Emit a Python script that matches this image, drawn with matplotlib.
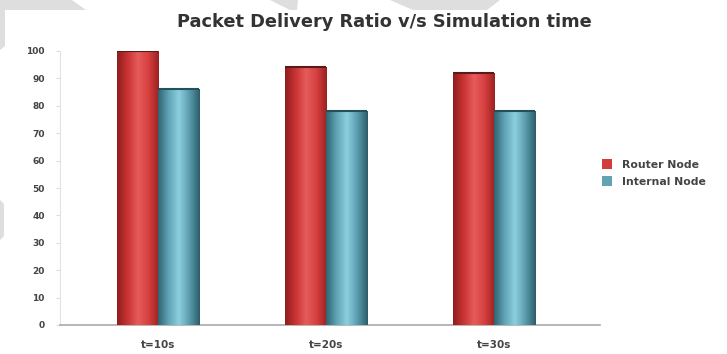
import numpy as np
import matplotlib.pyplot as plt
from matplotlib.colors import LinearSegmentedColormap
from matplotlib.patches import Polygon, Rectangle

# Packet delivery ratio (%) per simulation time
categories = ['t=10s', 't=20s', 't=30s']
router_node = [100, 94, 92]
internal_node = [86, 78, 78]
series_names = ['Router Node', 'Internal Node']
y_ticks = list(range(0, 101, 10))

W, H = 727, 354

red_cmap = LinearSegmentedColormap.from_list(
    'red_cyl', ['#8e1e1e', '#c83232', '#e65c5c', '#d84040', '#9a2222'])
teal_cmap = LinearSegmentedColormap.from_list(
    'teal_cyl', ['#2f6470', '#5fa3b5', '#8ccfdf', '#5a9cae', '#2b5c68'])


def px(points):
    # pixel coords (origin top-left) -> figure fraction
    return [(x / W, 1 - y / H) for x, y in points]


def shade_bars(ax, bars, cmap, cap):
    # horizontal gradient clipped to each bar to give a cylinder look
    grad = np.linspace(0, 1, 256).reshape(1, -1)
    for b in bars:
        x0, y0 = b.get_x(), b.get_y()
        w, h = b.get_width(), b.get_height()
        im = ax.imshow(grad, cmap=cmap, aspect='auto',
                       extent=(x0, x0 + w, y0, y0 + h), zorder=3)
        im.set_clip_path(b)
        ax.plot([x0, x0 + w], [y0 + h, y0 + h], color=cap,
                lw=1.5, zorder=4, solid_capstyle='butt')


fig = plt.figure(figsize=(W / 100, H / 100), dpi=100)

# faint page watermark around the chart area
wm = '#dedede'
for poly in [
    [(0, 0), (72, 0), (86, 10), (5, 10), (5, 46), (0, 50)],
    [(270, 0), (298, 0), (297, 10), (290, 10)],
    [(390, 0), (500, 0), (487, 10), (413, 10)],
    [(0, 200), (4, 204), (4, 236), (0, 240)],
]:
    fig.patches.append(Polygon(px(poly), closed=True, transform=fig.transFigure,
                               facecolor=wm, edgecolor='none', zorder=0))

ax = fig.add_axes([60 / W, 29 / H, 540 / W, 274 / H])
ax.patch.set_alpha(0)

x = np.arange(len(categories))
width = 0.245
bars_r = ax.bar(x - width / 2, router_node, width, color='#d23c3c', label=series_names[0], zorder=2)
bars_i = ax.bar(x + width / 2, internal_node, width, color='#5fa3b5', label=series_names[1], zorder=2)
shade_bars(ax, bars_r, red_cmap, '#5a1a1a')
shade_bars(ax, bars_i, teal_cmap, '#24505a')

ax.set_xlim(-0.585, 2.63)
ax.set_ylim(0, 100)
ax.set_yticks(y_ticks)
ax.set_yticklabels([str(t) for t in y_ticks], fontsize=6.5, fontweight='bold', color='#444444')
ax.set_xticks(x)
ax.set_xticklabels(categories, fontsize=7.5, fontweight='bold', color='#444444')
ax.tick_params(axis='y', length=3, color='#dddddd', pad=8)
ax.tick_params(axis='x', length=0, pad=11)

for s in ['top', 'right']:
    ax.spines[s].set_visible(False)
ax.spines['left'].set_color('#e2e2e2')
ax.spines['bottom'].set_color('#aaaaaa')
ax.spines['bottom'].set_linewidth(1.2)

fig.text(384 / W, 1 - 22 / H, 'Packet Delivery Ratio v/s Simulation time',
         ha='center', va='center', fontsize=12.8, fontweight='bold', color='#333333')

leg = fig.legend(loc='upper left', bbox_to_anchor=(602 / W, 1 - 159 / H),
                 frameon=False, fontsize=7.8, handlelength=0.95, handleheight=1.1,
                 handletextpad=0.9, labelspacing=0.55, borderaxespad=0, borderpad=0)
for t in leg.get_texts():
    t.set_fontweight('bold')
    t.set_color('#444444')

fig.savefig('out.png', dpi=100)
